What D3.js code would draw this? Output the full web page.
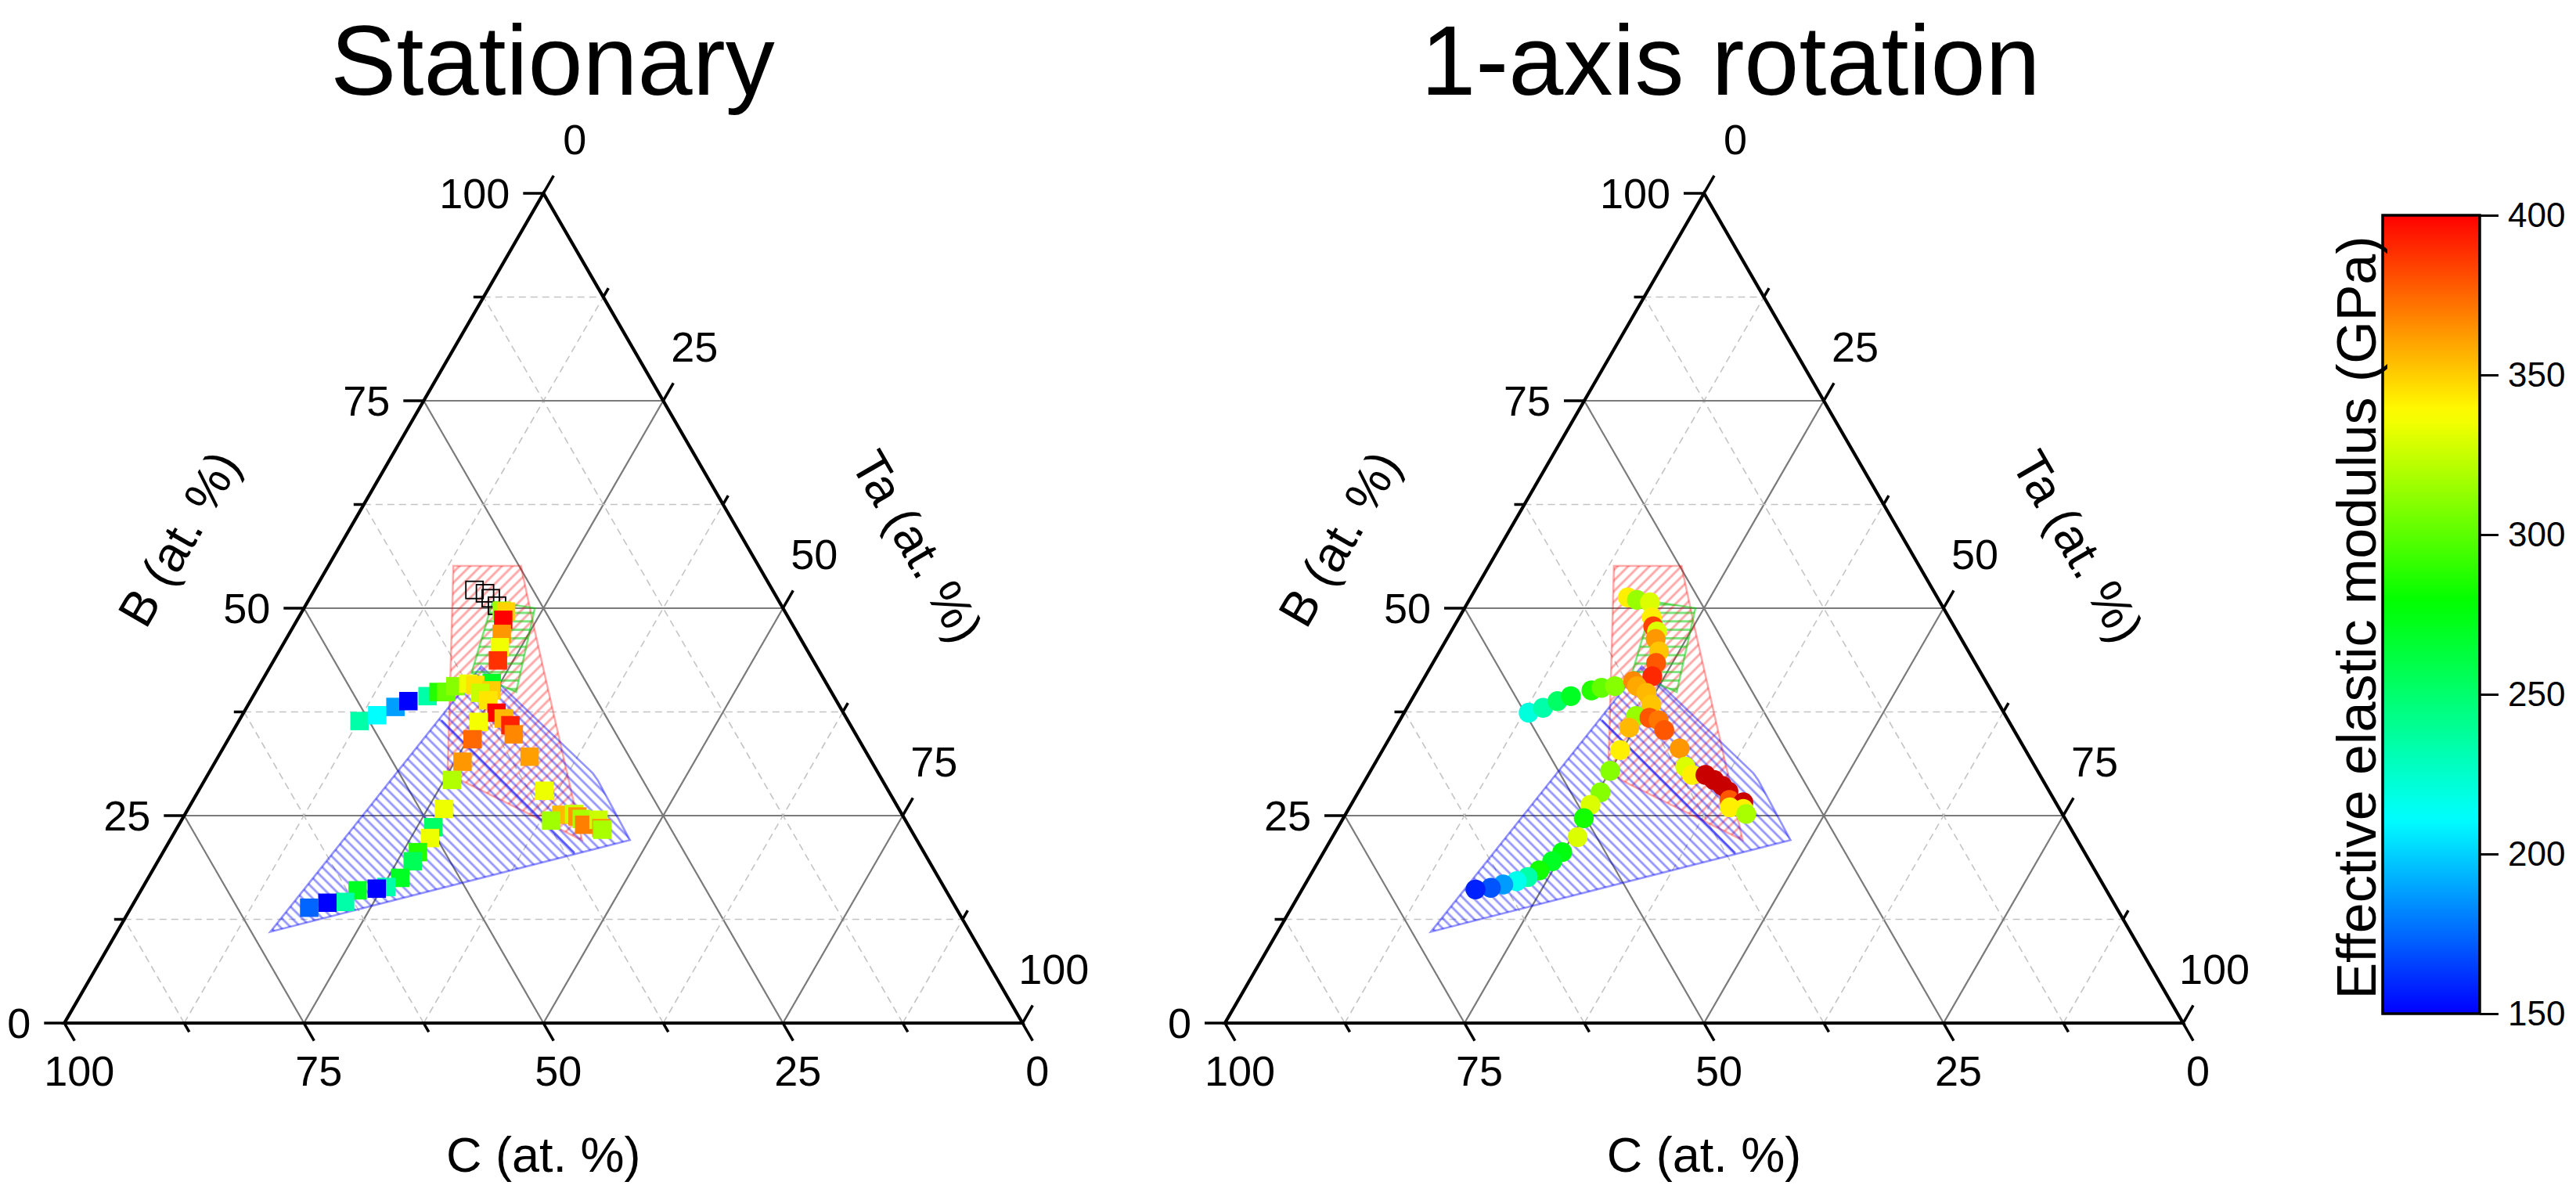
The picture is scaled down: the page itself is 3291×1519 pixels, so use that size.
<!DOCTYPE html>
<html><head><meta charset="utf-8">
<script src="https://cdn.jsdelivr.net/npm/d3@7"></script>
<style>
body{margin:0;background:#fff}
svg{display:block}
text{font-family:"Liberation Sans",Arial,Helvetica,sans-serif;fill:#000}
</style>
</head><body>
<svg id="chart" width="3291" height="1519"></svg>
<script>
// ---------------- DATA ----------------
const panelTitles = ["Stationary", "1-axis rotation"];
const majorTicks = [0, 25, 50, 75, 100];
const minorTicks = [12.5, 37.5, 62.5, 87.5];
const axisTitleB = "B (at. %)";
const axisTitleC = "C (at. %)";
const axisTitleTa = "Ta (at. %)";
const colorbarTicks = [150, 200, 250, 300, 350, 400];
const colorbarTitle = "Effective elastic modulus (GPa)";
const colorStops = [150, 211, 279, 338, 400];
const colorStopColors = ["#0000ff", "#00ffff", "#00ff00", "#ffff00", "#ff0000"];

// Stationary (squares): B at.%, Ta at.%, modulus GPa   (C = 100 - B - Ta)
const stationaryB  = [36.4,37.1,38.1,38.8,39.4,39.9,39.9,40.6,40.9,
                      49.7,49.6,48.6,46.9,45.3,43.7,41.0,
                      40.75,40.1,39.8,38.9,37.4,36.7,36.3,35.9,34.8,34.2,32.1,31.5,
                      29.3,25.8,23.6,22.3,20.6,19.5,17.5,16.4,16.2,16.0,14.6,14.5,13.9,
                      28.0,25.1,25.2,24.9,24.4,24.6,23.9,24.5,23.5,23.3];
const stationaryTa = [12.6,14.1,15.5,16.5,18.2,19.1,19.9,20.5,21.7,
                      20.8,21.3,21.5,22.2,22.8,23.4,24.1,
                      22.5,24.5,23.5,24.8,26.4,27.5,25.1,28.6,29.5,25.5,32.5,25.8,
                      25.8,26.7,26.7,27.0,26.6,26.6,26.3,25.4,24.5,22.6,22.0,20.2,18.6,
                      36.1,39.3,40.6,41.1,38.6,41.7,42.3,43.5,44.3,44.5];
const stationaryE  = [234,211,188,150,234,287,303,310,334,
                      316,349,400,363,335,388,270,
                      345,350,325,344,400,355,336,392,367,375,361,363,
                      320,334,252,334,287,256,270,234,150,270,234,150,174,
                      334,355,326,363,316,318,369,326,363,318];
// Stationary, not measured (open squares)
const unmeasuredB  = [52.2, 51.8, 51.2, 50.3];
const unmeasuredTa = [16.7, 18.0, 18.9, 20.0];

// 1-axis rotation (circles)
const rotationB  = [37.4,38.0,38.8,39.4,40.1,40.4,40.6,
                    51.3,51.0,50.7,48.9,47.8,47.2,46.3,44.8,43.4,41.8,
                    41.2,40.6,39.8,38.4,37.0,35.6,36.8,36.5,35.3,
                    33.1,30.9,29.9,29.9,29.3,28.6,27.9,26.9,26.6,26.0,25.8,25.2,
                    32.9,30.4,27.8,26.3,24.7,22.4,20.6,19.5,18.4,17.6,17.1,16.7,16.3,16.1];
const rotationTa = [13.0,14.2,15.3,16.4,18.2,19.1,20.4,
                    16.4,17.5,19.0,20.1,20.8,21.5,21.8,22.9,23.3,23.7,
                    22.0,22.7,24.1,25.3,24.4,24.4,25.9,27.0,28.2,
                    30.9,32.6,33.8,35.2,36.4,37.6,38.6,39.2,40.8,39.7,41.2,41.8,
                    24.8,25.0,25.3,25.0,25.1,25.6,24.9,24.4,23.6,22.8,21.9,20.7,19.6,18.1];
const rotationE  = [220,234,252,270,287,302,310,
                    342,314,330,342,384,330,363,352,379,390,
                    367,359,355,352,314,355,379,371,379,
                    363,330,342,420,420,420,420,379,420,342,342,318,
                    342,310,310,330,283,330,275,270,283,234,216,187,170,158];

// Composition regions (B, Ta vertices)
const redRegionB   = [55.1, 55.1, 47.5, 26.4, 22.05, 29.15, 30.4, 42.2];
const redRegionTa  = [13.05, 20.1, 25.3, 40.0, 43.0, 27.0, 24.8, 19.2];
const blueRegionB  = [43.0, 30.1, 29.3, 22.05, 11.0];
const blueRegionTa = [22.0, 40.1, 41.0, 48.0, 16.0];
const blueEdgeB    = [36.5, 20.5];
const blueEdgeTa   = [21.1, 43.0];
const greenRegionB  = [50.8, 50.0, 39.9, 42.2];
const greenRegionTa = [19.3, 24.1, 27.2, 21.4];

// ---------------- DRAWING ----------------
const svg = d3.select("#chart");
const defs = svg.append("defs");

const color = d3.scaleLinear().domain(colorStops).range(colorStopColors).clamp(true);
const colorOf = v => v > 400 ? "#c80000" : color(v);

function hatch(id, col, op, angle, spacing, w) {
  const p = defs.append("pattern").attr("id", id)
    .attr("patternUnits", "userSpaceOnUse")
    .attr("width", 40).attr("height", spacing)
    .attr("patternTransform", `rotate(${angle})`);
  p.append("line").attr("x1", 0).attr("x2", 40)
    .attr("y1", spacing / 2).attr("y2", spacing / 2)
    .attr("stroke", col).attr("stroke-opacity", op).attr("stroke-width", w);
}
hatch("hRed", "#ff0000", 0.35, -45, 9.6, 3);
hatch("hBlue", "#0000ff", 0.42, 45, 9.2, 2.6);
hatch("hGreen", "#00cc00", 0.5, 0, 10.8, 3);

const side = 1224, h = side * Math.sqrt(3) / 2, y0 = 1307;
const panels = [
  {x0: 82.3, title: panelTitles[0], titleX: 706, B: stationaryB, Ta: stationaryTa, E: stationaryE, sym: "square"},
  {x0: 1565, title: panelTitles[1], titleX: 2211, B: rotationB, Ta: rotationTa, E: rotationE, sym: "circle"}
];

const fs = {tick: 54, axis: 63, title: 126};

panels.forEach((P, pi) => {
  const g = svg.append("g");
  const xs = d3.scaleLinear().domain([0, 100]).range([P.x0, P.x0 + side]);
  const ys = d3.scaleLinear().domain([0, 100]).range([y0, y0 - h]);
  const pr = (B, Ta) => [xs(Ta + B / 2), ys(B)];
  const apex = pr(100, 0), bl = pr(0, 0), br = pr(0, 100);

  // title
  g.append("text").attr("x", P.titleX).attr("y", 121).attr("text-anchor", "middle")
    .style("font-size", fs.title + "px").text(P.title);

  // grid
  const gridVals = d3.range(1, 8).map(i => i * 12.5);
  gridVals.forEach(v => {
    const major = (v % 25 === 0);
    const segs = [
      [pr(v, 0), pr(v, 100 - v)],          // constant B
      [pr(0, v), pr(100 - v, v)],          // constant Ta
      [pr(0, 100 - v), pr(100 - v, 0)]     // constant C
    ];
    segs.forEach(s => {
      g.append("line").attr("x1", s[0][0]).attr("y1", s[0][1]).attr("x2", s[1][0]).attr("y2", s[1][1])
        .attr("stroke", major ? "#7a7a7a" : "#c4c4c4")
        .attr("stroke-width", major ? 2.2 : 1.6)
        .attr("stroke-dasharray", major ? null : "9,6");
    });
  });

  // regions
  const poly = (Bs, Tas) => Bs.map((b, i) => pr(b, Tas[i]).join(",")).join(" ");
  g.append("polygon").attr("points", poly(redRegionB, redRegionTa))
    .attr("fill", "url(#hRed)").attr("stroke", "#ff0000").attr("stroke-opacity", 0.33).attr("stroke-width", 2.6);
  g.append("polygon").attr("points", poly(blueRegionB, blueRegionTa))
    .attr("fill", "url(#hBlue)").attr("stroke", "#0000ff").attr("stroke-opacity", 0.42).attr("stroke-width", 2.6);
  const e1 = pr(blueEdgeB[0], blueEdgeTa[0]), e2 = pr(blueEdgeB[1], blueEdgeTa[1]);
  g.append("line").attr("x1", e1[0]).attr("y1", e1[1]).attr("x2", e2[0]).attr("y2", e2[1])
    .attr("stroke", "#0000ff").attr("stroke-opacity", 0.55).attr("stroke-width", 2.6);
  g.append("polygon").attr("points", poly(greenRegionB, greenRegionTa))
    .attr("fill", "url(#hGreen)").attr("stroke", "#00cc00").attr("stroke-opacity", 0.5).attr("stroke-width", 2.6);

  // triangle frame
  g.append("path").attr("d", `M${apex}L${bl}L${br}Z`).attr("fill", "none")
    .attr("stroke", "#000").attr("stroke-width", 4.2).attr("stroke-linejoin", "miter");

  // ticks
  const c60 = 0.5, s60 = Math.sqrt(3) / 2;
  const tickSets = [
    {vals: majorTicks, len: 26}, {vals: minorTicks, len: 13}
  ];
  tickSets.forEach(ts => {
    ts.vals.forEach(v => {
      let p = pr(v, 0);
      g.append("line").attr("x1", p[0]).attr("y1", p[1]).attr("x2", p[0] - ts.len).attr("y2", p[1])
        .attr("stroke", "#000").attr("stroke-width", 3.5);
      p = pr(100 - v, v);
      g.append("line").attr("x1", p[0]).attr("y1", p[1]).attr("x2", p[0] + ts.len * c60).attr("y2", p[1] - ts.len * s60)
        .attr("stroke", "#000").attr("stroke-width", 3.5);
      p = pr(0, 100 - v);
      g.append("line").attr("x1", p[0]).attr("y1", p[1]).attr("x2", p[0] + ts.len * c60).attr("y2", p[1] + ts.len * s60)
        .attr("stroke", "#000").attr("stroke-width", 3.5);
    });
  });

  // tick labels
  majorTicks.forEach(v => {
    let p = pr(v, 0);
    g.append("text").attr("x", p[0] - 43).attr("y", p[1]).attr("dy", "0.36em")
      .attr("text-anchor", "end").style("font-size", fs.tick + "px").text(v);
    p = pr(100 - v, v);
    g.append("text").attr("x", p[0] + 40).attr("y", p[1] - 69).attr("dy", "0.36em")
      .attr("text-anchor", "middle").style("font-size", fs.tick + "px").text(v);
    p = pr(0, 100 - v);
    g.append("text").attr("x", p[0] + 19).attr("y", p[1] + 61).attr("dy", "0.36em")
      .attr("text-anchor", "middle").style("font-size", fs.tick + "px").text(v);
  });

  // axis titles
  g.append("text").attr("transform", `translate(${apex[0] - 466},${apex[1] + 441}) rotate(-60)`)
    .attr("text-anchor", "middle").attr("dy", "0.35em").style("font-size", fs.axis + "px").text(axisTitleB);
  g.append("text").attr("transform", `translate(${apex[0] + 478},${apex[1] + 451}) rotate(60)`)
    .attr("text-anchor", "middle").attr("dy", "0.35em").style("font-size", fs.axis + "px").text(axisTitleTa);
  g.append("text").attr("x", apex[0]).attr("y", 1497)
    .attr("text-anchor", "middle").style("font-size", fs.axis + "px").text(axisTitleC);

  // data points
  if (pi === 0) {
    const sz = 22;
    g.selectAll("rect.open").data(unmeasuredB).join("rect").attr("class", "open")
      .attr("x", (b, i) => pr(b, unmeasuredTa[i])[0] - sz / 2)
      .attr("y", (b, i) => pr(b, unmeasuredTa[i])[1] - sz / 2)
      .attr("width", sz).attr("height", sz)
      .attr("fill", "none").attr("stroke", "#000").attr("stroke-width", 1.8);
    const s2 = 23.5;
    g.selectAll("rect.pt").data(P.B).join("rect").attr("class", "pt")
      .attr("x", (b, i) => pr(b, P.Ta[i])[0] - s2 / 2)
      .attr("y", (b, i) => pr(b, P.Ta[i])[1] - s2 / 2)
      .attr("width", s2).attr("height", s2)
      .attr("fill", (b, i) => colorOf(P.E[i]));
  } else {
    g.selectAll("circle.pt").data(P.B).join("circle").attr("class", "pt")
      .attr("cx", (b, i) => pr(b, P.Ta[i])[0])
      .attr("cy", (b, i) => pr(b, P.Ta[i])[1])
      .attr("r", 12.7)
      .attr("fill", (b, i) => colorOf(P.E[i]));
  }
});

// ---------------- COLORBAR ----------------
const cb = {x: 3044, w: 124, top: 275, bottom: 1295};
const cbScale = d3.scaleLinear().domain([150, 400]).range([cb.bottom, cb.top]);
const grad = defs.append("linearGradient").attr("id", "cbGrad")
  .attr("x1", 0).attr("y1", 1).attr("x2", 0).attr("y2", 0);
d3.range(150, 401, 5).forEach(v => {
  grad.append("stop").attr("offset", (v - 150) / 250).attr("stop-color", color(v));
});
svg.append("rect").attr("x", cb.x).attr("y", cb.top).attr("width", cb.w).attr("height", cb.bottom - cb.top)
  .attr("fill", "url(#cbGrad)").attr("stroke", "#000").attr("stroke-width", 3.5);
const cbAxis = svg.append("g").attr("transform", `translate(${cb.x + cb.w},0)`)
  .call(d3.axisRight(cbScale).tickValues(colorbarTicks).tickSize(24).tickPadding(12));
cbAxis.select(".domain").remove();
cbAxis.selectAll(".tick line").attr("stroke", "#000").attr("stroke-width", 3);
cbAxis.selectAll(".tick text").style("font-size", "44px")
  .style("font-family", '"Liberation Sans",Arial,sans-serif').attr("fill", "#000");
svg.append("text").attr("transform", `translate(3010,789) rotate(-90)`)
  .attr("text-anchor", "middle").attr("dy", "0.35em").style("font-size", "70px").text(colorbarTitle);
</script>
</body></html>
